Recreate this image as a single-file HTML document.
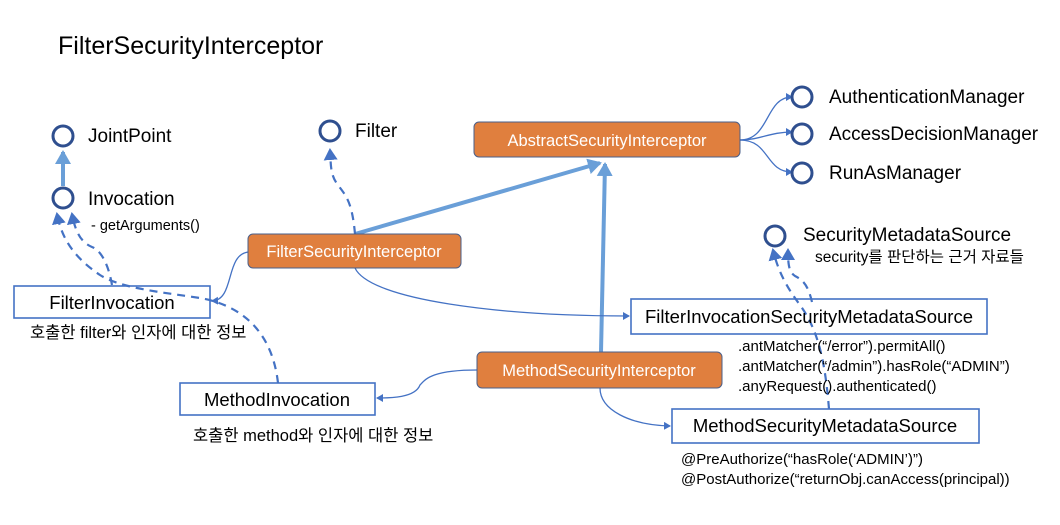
<!DOCTYPE html>
<html><head><meta charset="utf-8"><style>
body{margin:0;background:#fff;}
svg{display:block;font-family:"Liberation Sans","Noto Sans CJK KR",sans-serif;}
</style></head><body>
<svg width="1060" height="525" viewBox="0 0 1060 525" xmlns="http://www.w3.org/2000/svg">
<defs>
<marker id="a" markerWidth="8" markerHeight="8" refX="6" refY="4" orient="auto" markerUnits="userSpaceOnUse"><path d="M0,0 L7,4 L0,8 z" fill="#4472c4"/></marker>
<marker id="b" markerWidth="14" markerHeight="14" refX="10" refY="7" orient="auto" markerUnits="userSpaceOnUse"><path d="M0,0 L12,7 L0,14 z" fill="#4472c4"/></marker>
<marker id="t" markerWidth="16" markerHeight="16" refX="12" refY="8" orient="auto" markerUnits="userSpaceOnUse"><path d="M0,0 L14,8 L0,16 z" fill="#6a9fd8"/></marker>
</defs>
<text x="58" y="54" font-size="25" fill="#000">FilterSecurityInterceptor</text>

<line x1="63" y1="186" x2="63" y2="152" stroke="#6a9fd8" stroke-width="4" marker-end="url(#t)"/>
<line x1="355" y1="234" x2="600" y2="163" stroke="#6a9fd8" stroke-width="4" marker-end="url(#t)"/>
<line x1="601" y1="352" x2="605" y2="164" stroke="#6a9fd8" stroke-width="4" marker-end="url(#t)"/>

<g fill="none" stroke="#4472c4" stroke-width="2.2" stroke-dasharray="8,6">
<path d="M355,234 C352,200 345,195 338,185 C330,175 331,165 330,150" marker-end="url(#b)"/>
<path d="M112,285 C108,262 100,250 92,247 C80,242 75,230 72,214" marker-end="url(#b)"/>
<path d="M278,383 C272,330 240,305 200,298 C160,292 120,288 100,275 C75,258 62,240 57,214" marker-end="url(#b)"/>
<path d="M812,302 C808,285 803,280 795,276 C789,272 788,265 788,250" marker-end="url(#b)"/>
<path d="M829,409 C825,360 818,330 800,305 C785,285 778,270 773,250" marker-end="url(#b)"/>
</g>

<g fill="none" stroke="#4472c4" stroke-width="1.3">
<path d="M248,252 C225,255 235,300 212,301" marker-end="url(#a)"/>
<path d="M355,268 C370,300 500,316 629,316" marker-end="url(#a)"/>
<path d="M477,370 C430,370 425,380 420,385 C415,398 390,398 377,398" marker-end="url(#a)"/>
<path d="M600,388 C600,410 630,425 670,426" marker-end="url(#a)"/>
<path d="M740,140 C770,140 765,97 792,97" marker-end="url(#a)"/>
<path d="M740,140 C760,140 770,132 792,132" marker-end="url(#a)"/>
<path d="M740,140 C770,140 765,172 792,172" marker-end="url(#a)"/>
</g>

<g fill="#fff" stroke="#2f4f8f" stroke-width="3">
<circle cx="63" cy="136" r="10"/>
<circle cx="63" cy="198" r="10"/>
<circle cx="330" cy="131" r="10"/>
<circle cx="802" cy="97" r="10"/>
<circle cx="802" cy="134" r="10"/>
<circle cx="802" cy="173" r="10"/>
<circle cx="775" cy="236" r="10"/>
</g>
<g font-size="19" fill="#000">
<text x="88" y="142">JointPoint</text>
<text x="88" y="205">Invocation</text>
<text x="355" y="137">Filter</text>
<text x="829" y="103">AuthenticationManager</text>
<text x="829" y="140">AccessDecisionManager</text>
<text x="829" y="179">RunAsManager</text>
<text x="803" y="241">SecurityMetadataSource</text>
</g>
<text x="91" y="230" font-size="14.5">- getArguments()</text>
<text x="815" y="262" font-size="15.5">security를 판단하는 근거 자료들</text>

<g fill="#e07f3e" stroke="#4a5f8a" stroke-width="1">
<rect x="474" y="122" width="266" height="35" rx="5"/>
<rect x="248" y="234" width="213" height="34" rx="5"/>
<rect x="477" y="352" width="245" height="36" rx="5"/>
</g>
<g font-size="16.5" fill="#fff" text-anchor="middle">
<text x="607" y="146">AbstractSecurityInterceptor</text>
<text x="354" y="257">FilterSecurityInterceptor</text>
<text x="599" y="376">MethodSecurityInterceptor</text>
</g>

<g fill="none" stroke="#4472c4" stroke-width="1.6">
<rect x="14" y="286" width="196" height="32"/>
<rect x="180" y="383" width="195" height="32"/>
<rect x="631" y="299" width="356" height="35"/>
<rect x="672" y="409" width="307" height="34"/>
</g>
<g font-size="18.5" fill="#000" text-anchor="middle">
<text x="112" y="309">FilterInvocation</text>
<text x="277" y="406">MethodInvocation</text>
<text x="809" y="323">FilterInvocationSecurityMetadataSource</text>
<text x="825" y="432">MethodSecurityMetadataSource</text>
</g>
<g font-size="16.5" fill="#000">
<text x="30" y="338">호출한 filter와 인자에 대한 정보</text>
<text x="193" y="441">호출한 method와 인자에 대한 정보</text>
</g>
<g font-size="15" fill="#000">
<text x="738" y="351">.antMatcher(“/error”).permitAll()</text>
<text x="738" y="371">.antMatcher(“/admin”).hasRole(“ADMIN”)</text>
<text x="738" y="391">.anyRequest().authenticated()</text>
<text x="681" y="464">@PreAuthorize(“hasRole(‘ADMIN’)”)</text>
<text x="681" y="484">@PostAuthorize(“returnObj.canAccess(principal))</text>
</g>
</svg>
</body></html>
